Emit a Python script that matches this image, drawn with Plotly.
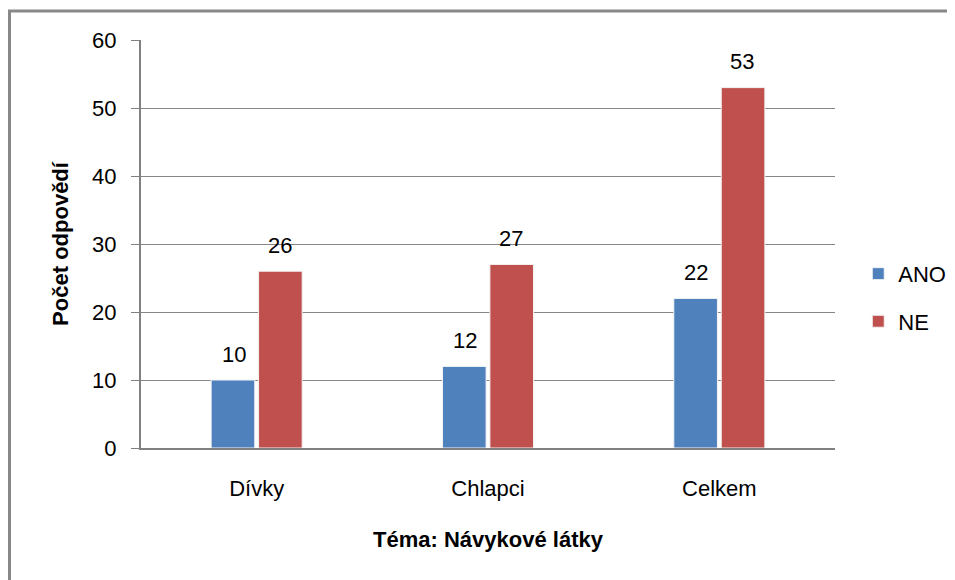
import plotly.graph_objects as go

categories = ["Dívky", "Chlapci", "Celkem"]
ano_values = [10, 12, 22]
ne_values = [26, 27, 53]
y_ticks = [0, 10, 20, 30, 40, 50, 60]

FONT = "Liberation Sans, Arial, sans-serif"

fig = go.Figure()
fig.add_trace(go.Bar(
    name="ANO", x=categories, y=ano_values, marker_color="#4F81BD",
    marker_line=dict(color="#F4F4F4", width=1), legendgroup="a",
))
fig.add_trace(go.Bar(
    name="NE", x=categories, y=ne_values, marker_color="#C0504D",
    marker_line=dict(color="#F4F4F4", width=1), legendgroup="b",
))

# value labels above the bars (offset by half a group to sit over each bar)
annotations = []
for series, dx in ((ano_values, -23), (ne_values, 23)):
    for cat, val in zip(categories, series):
        annotations.append(dict(
            x=cat, y=val, xref="x", yref="y", text=str(val), showarrow=False,
            xshift=dx, yshift=26, yanchor="middle",
            font=dict(size=22, color="black", family=FONT),
        ))

# page body adds ~8px offset; compensate in margins
L, T = 133, 32
W, H = 955, 580
pw, ph = 694, 408
R = W - L - pw
B = H - T - ph

fig.update_layout(
    width=W, height=H,
    margin=dict(l=L, r=R, t=T, b=B, autoexpand=False),
    paper_bgcolor="white", plot_bgcolor="white",
    barmode="group", bargap=0.59, bargroupgap=0.08,
    font=dict(family=FONT, size=22, color="black"),
    showlegend=True,
    legend=dict(x=1.0335, y=0.368, xanchor="left", yanchor="middle",
                font=dict(size=22), tracegroupgap=16,
                itemwidth=30),
    xaxis=dict(
        showline=True, linecolor="#808080", linewidth=2,
        ticks="", tickfont=dict(size=22), ticklabelstandoff=20,
        title=dict(text="<b>Téma: Návykové látky</b>", font=dict(size=22), standoff=31),
    ),
    yaxis=dict(
        range=[0, 60], tickvals=y_ticks, showgrid=True, gridcolor="#868686", gridwidth=1,
        showline=True, linecolor="#808080", linewidth=2,
        ticks="outside", ticklen=8, tickcolor="#808080", tickwidth=1,
        tickfont=dict(size=22), zeroline=False, ticklabelstandoff=10,
        title=dict(text="<b>Počet odpovědí</b>", font=dict(size=22), standoff=17),
    ),
    annotations=annotations,
    shapes=[dict(
        type="rect", xref="paper", yref="paper",
        x0=(1.5 - L) / pw, x1=(975 - L) / pw,
        y0=-(600 - (H - B)) / ph, y1=1 + (T - 3) / ph,
        line=dict(color="#888888", width=3), layer="below",
    )],
)

fig.write_html("out.html")
